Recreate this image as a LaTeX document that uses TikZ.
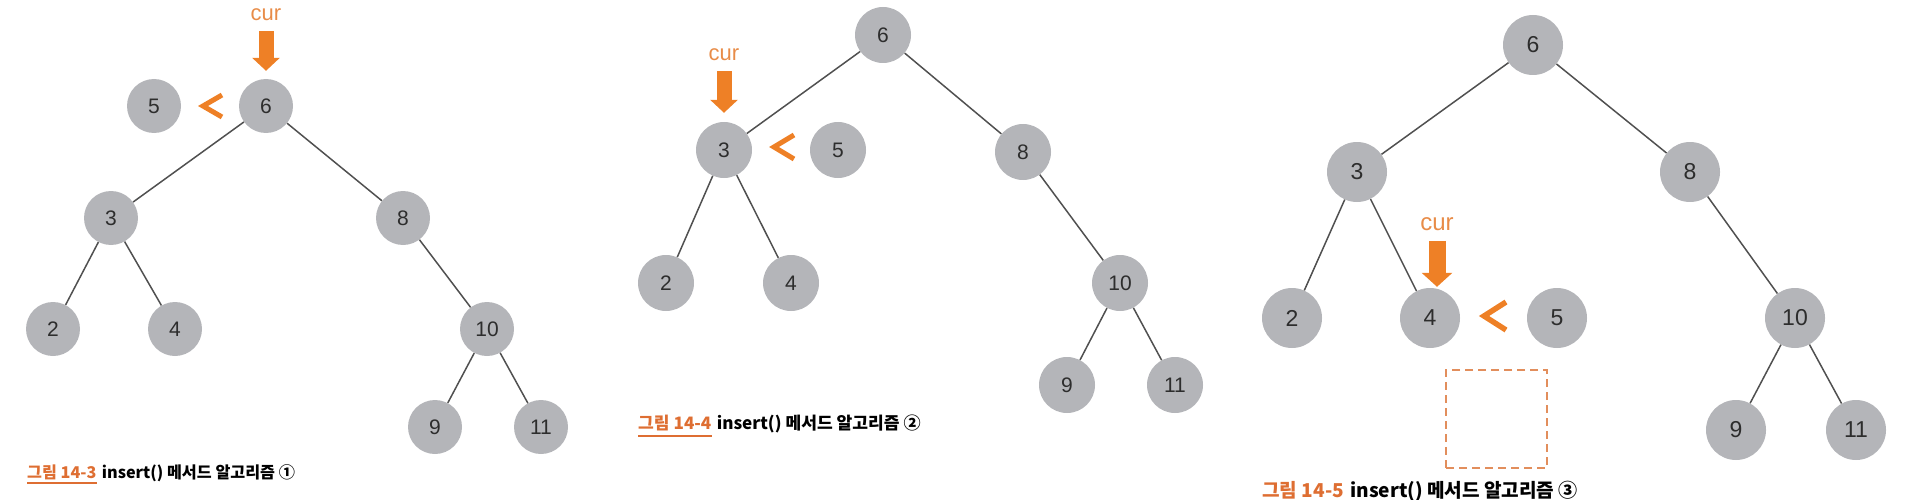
\documentclass[tikz,border=0pt]{standalone}
\usepackage{fontspec}
\usepackage{tikz}
\usetikzlibrary{calc}
\usetikzlibrary{arrows.meta}
\setmainfont{Liberation Sans}
\newfontfamily\krfont{Noto Sans CJK KR}

\definecolor{nodegray}{RGB}{180,181,185}
\definecolor{numgray}{RGB}{45,45,45}
\definecolor{linegray}{RGB}{80,80,80}
\definecolor{curorange}{RGB}{238,128,38}
\definecolor{curtextcol}{RGB}{232,140,72}
\definecolor{caporange}{RGB}{222,110,50}
\definecolor{boxorange}{RGB}{226,142,92}

\tikzset{
  vertex/.style={circle, fill=nodegray, text=numgray, inner sep=0pt, minimum size=54pt, font=\fontsize{21}{21}\selectfont},
  bigvertex/.style={vertex, minimum size=60pt, font=\fontsize{23}{23}\selectfont},
  treeline/.style={draw=linegray, line width=1.5pt},
  curlabel/.style={text=curtextcol, inner sep=0pt, font=\fontsize{22}{22}\selectfont},
  curarrow/.style={draw=curorange, line width=15pt, -{Triangle[width=27pt,length=13pt]}, shorten <=10pt},
  lessmark/.style={draw=curorange, line width=5pt},
  figno/.style={text=caporange, inner sep=0pt},
  captext/.style={text=black, inner sep=0pt},
  capline/.style={draw=caporange, line width=2pt},
  slotbox/.style={draw=boxorange, line width=2.8pt, dash pattern=on 8pt off 5pt, minimum width=101pt, minimum height=98pt}
}

\begin{document}
\begin{tikzpicture}[x=1pt, y=-1pt]
  \useasboundingbox (0,0) rectangle (1910,500);

  % first step: compare with the root
  \node[vertex] (a6) at (266,106) {6};
  \node[vertex] (a5) at (154,106) {5};
  \node[vertex] (a3) at (111,218) {3};
  \node[vertex] (a8) at (403,218) {8};
  \node[vertex] (a2) at (53,329) {2};
  \node[vertex] (a4) at (175,329) {4};
  \node[vertex] (a10) at (487,329) {10};
  \node[vertex] (a9) at (435,427) {9};
  \node[vertex] (a11) at (541,427) {11};
  \draw[treeline] (a6) -- (a3) (a6) -- (a8) (a3) -- (a2) (a3) -- (a4)
                  (a8) -- (a10) (a10) -- (a9) (a10) -- (a11);
  \node[curlabel] (cur1) at (266,15) {cur};
  \draw[curarrow, shorten >=8pt] (cur1.south) -- (cur1.south |- a6.north);
  \coordinate (lt1) at (211,106);
  \draw[lessmark] ($(lt1)+(11,-11)$) -- ($(lt1)+(-8,0)$) -- ($(lt1)+(11,11)$);

  \node[figno, anchor=west, font=\krfont\bfseries\fontsize{16.2}{16.2}\selectfont] (cap1a) at (27,472) {그림 14-3};
  \node[captext, anchor=base west, font=\krfont\bfseries\fontsize{16.2}{16.2}\selectfont] (cap1b) at ($(cap1a.base east)+(5,0)$) {insert() 메서드 알고리즘 ①};
  \draw[capline] ($(cap1a.south west)+(0,3)$) -- ($(cap1a.south east)+(0,3)$);

  % second step: go down to the left child
  \node[vertex, minimum size=56pt] (b6) at (883,35) {6};
  \node[vertex, minimum size=56pt] (b3) at (724,150) {3};
  \node[vertex, minimum size=56pt] (b5) at (838,150) {5};
  \node[vertex, minimum size=56pt] (b8) at (1023,152) {8};
  \node[vertex, minimum size=56pt] (b2) at (666,283) {2};
  \node[vertex, minimum size=56pt] (b4) at (791,283) {4};
  \node[vertex, minimum size=56pt] (b10) at (1120,283) {10};
  \node[vertex, minimum size=56pt] (b9) at (1067,385) {9};
  \node[vertex, minimum size=56pt] (b11) at (1175,385) {11};
  \draw[treeline] (b6) -- (b3) (b6) -- (b8) (b3) -- (b2) (b3) -- (b4)
                  (b8) -- (b10) (b10) -- (b9) (b10) -- (b11);
  \node[curlabel] (cur2) at (724,55) {cur};
  \draw[curarrow, shorten >=9pt] (cur2.south) -- (cur2.south |- b3.north);
  \coordinate (lt2) at (782,147);
  \draw[lessmark] ($(lt2)+(12,-12)$) -- ($(lt2)+(-8,0)$) -- ($(lt2)+(12,12)$);

  \node[figno, anchor=west, font=\krfont\bfseries\fontsize{17.1}{17.1}\selectfont] (cap2a) at (638,423) {그림 14-4};
  \node[captext, anchor=base west, font=\krfont\bfseries\fontsize{17.1}{17.1}\selectfont] (cap2b) at ($(cap2a.base east)+(5,0)$) {insert() 메서드 알고리즘 ②};
  \draw[capline] ($(cap2a.south west)+(0,5)$) -- ($(cap2a.south east)+(0,5)$);

  % third step: right of 4 is empty
  \node[bigvertex] (c6) at (1533,45) {6};
  \node[bigvertex] (c3) at (1357,172) {3};
  \node[bigvertex] (c8) at (1690,172) {8};
  \node[bigvertex] (c2) at (1292,318) {2};
  \node[bigvertex] (c4) at (1430,318) {4};
  \node[bigvertex] (c5) at (1557,318) {5};
  \node[bigvertex] (c10) at (1795,318) {10};
  \node[bigvertex] (c9) at (1736,430) {9};
  \node[bigvertex] (c11) at (1856,430) {11};
  \draw[treeline] (c6) -- (c3) (c6) -- (c8) (c3) -- (c2) (c3) -- (c4)
                  (c8) -- (c10) (c10) -- (c9) (c10) -- (c11);
  \node[curlabel, font=\fontsize{24}{24}\selectfont] (cur3) at (1437,224) {cur};
  \draw[curarrow, line width=17pt, -{Triangle[width=30pt,length=14pt]}, shorten >=1pt] (cur3.south) -- (cur3.south |- c4.north);
  \coordinate (lt3) at (1493,316);
  \draw[lessmark, line width=5.5pt] ($(lt3)+(13,-14)$) -- ($(lt3)+(-9,0)$) -- ($(lt3)+(13,14)$);
  \node[slotbox] (slot) at (1496.5,419) {};

  \node[figno, anchor=west, font=\krfont\bfseries\fontsize{19.1}{19.1}\selectfont] (cap3a) at (1262,490) {그림 14-5};
  \node[captext, anchor=base west, font=\krfont\bfseries\fontsize{19.1}{19.1}\selectfont] (cap3b) at ($(cap3a.base east)+(6,0)$) {insert() 메서드 알고리즘 ③};
\end{tikzpicture}
\end{document}
